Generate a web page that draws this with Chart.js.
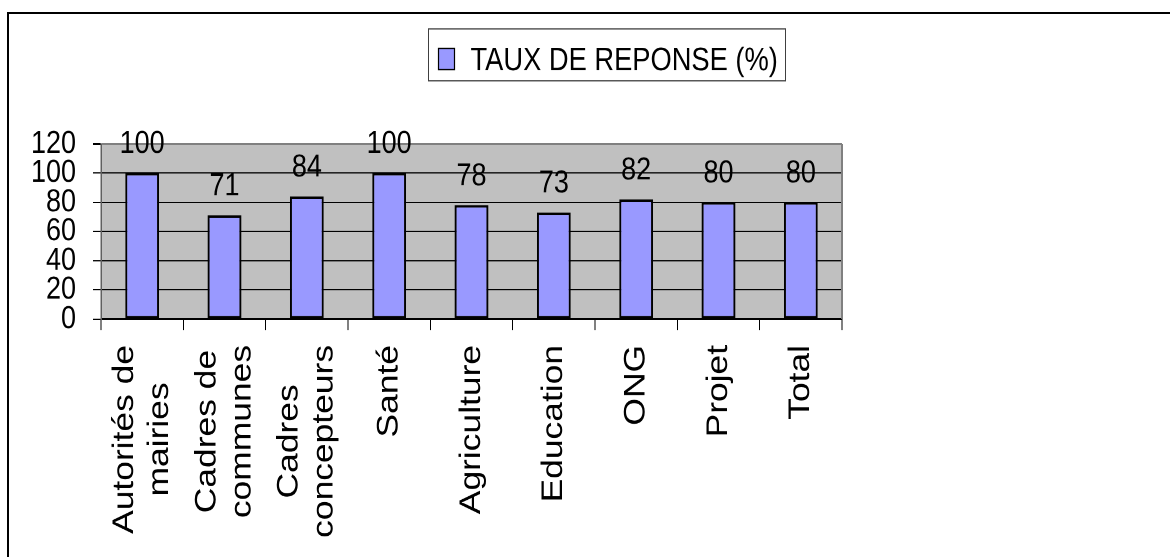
<!DOCTYPE html>
<html>
<head>
<meta charset="utf-8">
<script src="https://cdn.jsdelivr.net/npm/chart.js@4.4.1/dist/chart.umd.min.js"></script>
<style>
  html, body { margin: 0; padding: 0; background: #fff; overflow: hidden; width: 1170px; height: 557px; }
  #frame { position: absolute; left: 7px; top: 12px; width: 2000px; height: 2000px;
           border-left: 2px solid #000; border-top: 2px solid #000; box-sizing: border-box; }
  #wrap { position: absolute; left: 0; top: 0; width: 1170px; height: 472px;
          transform: scaleY(1.1801); transform-origin: 0 0; }
</style>
</head>
<body>
<div id="frame"></div>
<div id="wrap"><canvas id="c"></canvas></div>
<script>
const categories = [
  ["Autorités de", "mairies"],
  ["Cadres de", "communes"],
  ["Cadres", "concepteurs"],
  ["Santé"],
  ["Agriculture"],
  ["Education"],
  ["ONG"],
  ["Projet"],
  ["Total"]
];
const values = [100, 71, 84, 100, 78, 73, 82, 80, 80];
const yTicks = [0, 20, 40, 60, 80, 100, 120];
const seriesName = "TAUX DE REPONSE (%)";

const FONT = "'Liberation Sans', Arial, sans-serif";

const decor = {
  id: 'decor',
  beforeDraw(chart) {
    const { ctx, chartArea: a } = chart;
    ctx.save();
    ctx.fillStyle = '#C0C0C0';
    ctx.fillRect(a.left, a.top, a.right - a.left, a.bottom - a.top);
    ctx.restore();
  },
  afterDatasetsDraw(chart) {
    const { ctx, chartArea: a } = chart;
    const ds = chart.data.datasets[0];
    ctx.save();
    // plot area right border
    ctx.strokeStyle = '#808080';
    ctx.lineWidth = 2;
    ctx.beginPath();
    ctx.moveTo(a.right, a.top);
    ctx.lineTo(a.right, a.bottom);
    ctx.stroke();

    // data labels
    const meta = chart.getDatasetMeta(0);
    ctx.fillStyle = '#000';
    ctx.font = '27px ' + FONT;
    ctx.textAlign = 'center';
    ctx.textBaseline = 'alphabetic';
    meta.data.forEach((bar, i) => {
      ctx.fillText(String(ds.data[i]), bar.x, bar.y - 17);
    });

    // rotated category labels
    const xs = chart.scales.x;
    ctx.font = '30px ' + FONT;
    chart.data.labels.forEach((lab, i) => {
      const lines = Array.isArray(lab) ? lab : [lab];
      const w = Math.max(...lines.map(l => ctx.measureText(l).width));
      const cx = xs.getPixelForValue(i);
      ctx.save();
      ctx.translate(cx, xs.top + 22);
      ctx.rotate(-Math.PI / 2);
      ctx.textAlign = 'center';
      ctx.textBaseline = 'middle';
      lines.forEach((l, j) => {
        ctx.fillText(l, -w / 2, (j - (lines.length - 1) / 2) * 35);
      });
      ctx.restore();
    });

    // legend box
    ctx.strokeStyle = '#404040';
    ctx.lineWidth = 1;
    ctx.strokeRect(428.5, 24.5, 357, 44);
    ctx.fillStyle = ds.backgroundColor;
    ctx.fillRect(438.5, 41, 16, 18);
    ctx.strokeStyle = '#000';
    ctx.lineWidth = 1.2;
    ctx.strokeRect(438.5, 41, 16, 18);
    ctx.fillStyle = '#000';
    ctx.font = '27.3px ' + FONT;
    ctx.textAlign = 'left';
    ctx.textBaseline = 'alphabetic';
    ctx.fillText(ds.label, 470.5, 59.3);
    ctx.restore();
  }
};

new Chart(document.getElementById('c'), {
  type: 'bar',
  data: {
    labels: categories,
    datasets: [{
      label: seriesName,
      data: values,
      backgroundColor: '#9999FF',
      borderColor: '#000000',
      borderWidth: 2,
      borderSkipped: false,
      categoryPercentage: 1.0,
      barPercentage: 0.41
    }]
  },
  options: {
    responsive: true,
    maintainAspectRatio: false,
    devicePixelRatio: 2,
    animation: false,
    layout: { padding: { top: 122, right: 328, left: 0, bottom: 0 } },
    plugins: {
      legend: { display: false },
      tooltip: { enabled: false },
      title: { display: false }
    },
    scales: {
      x: {
        offset: true,
        grid: {
          display: true,
          offset: true,
          drawOnChartArea: false,
          drawTicks: true,
          tickLength: 9.3,
          color: '#000',
          lineWidth: 1
        },
        border: { display: true, color: '#000', width: 1.5 },
        ticks: { display: false },
        afterFit: s => { s.height = 472 - 270.3; }
      },
      y: {
        min: 0,
        max: 120,
        afterBuildTicks: s => { s.ticks = yTicks.map(v => ({ value: v })); },
        grid: {
          color: c => (c.tick && c.tick.value === 120) ? '#808080' : '#000',
          tickColor: '#000',
          lineWidth: c => (c.tick && c.tick.value === 120) ? 2 : 1,
          tickLength: 8,
          drawTicks: true
        },
        border: { display: true, color: '#606060', width: 1.5 },
        ticks: {
          color: '#000',
          font: { family: FONT, size: 27 },
          padding: 17,
          autoSkip: false,
          crossAlign: 'near'
        },
        afterFit: s => { s.width = 101; }
      }
    }
  },
  plugins: [decor]
});
</script>
</body>
</html>
